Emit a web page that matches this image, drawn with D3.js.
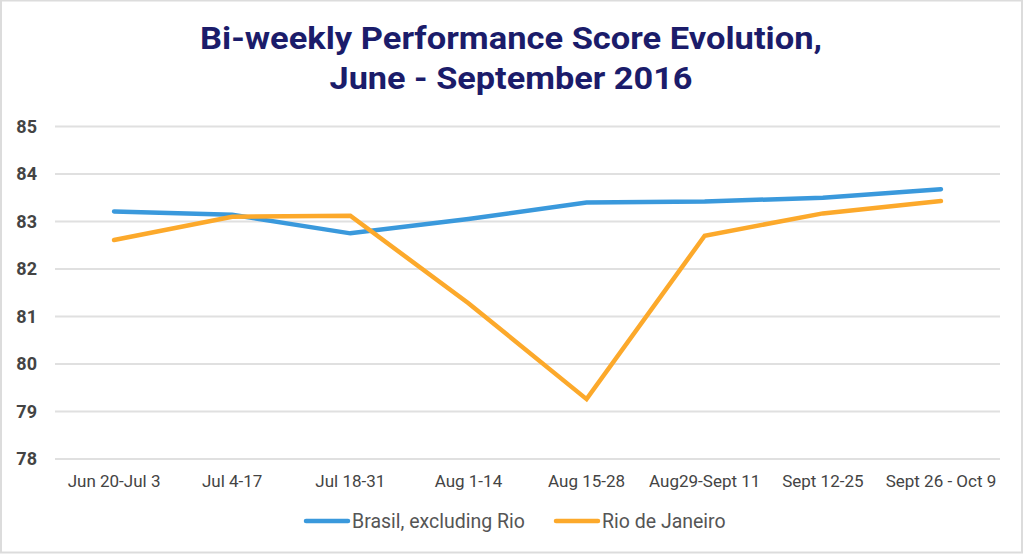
<!DOCTYPE html>
<html>
<head>
<meta charset="utf-8">
<script src="https://cdn.jsdelivr.net/npm/d3@7"></script>
<style>
  html, body { margin: 0; padding: 0; background: #fff; }
  svg { display: block; }
</style>
</head>
<body>
<svg id="chart" width="1024" height="554"></svg>
<script>
const categories = ["Jun 20-Jul 3", "Jul 4-17", "Jul 18-31", "Aug 1-14", "Aug 15-28", "Aug29-Sept 11", "Sept 12-25", "Sept 26 - Oct 9"];
const brasilValues = [83.20, 83.13, 82.74, 83.04, 83.39, 83.41, 83.49, 83.67];
const rioValues = [82.60, 83.09, 83.11, 81.27, 79.25, 82.69, 83.16, 83.42];
const seriesNames = ["Brasil, excluding Rio", "Rio de Janeiro"];
const yTicks = [78, 79, 80, 81, 82, 83, 84, 85];
const titleLines = ["Bi-weekly Performance Score Evolution,", "June - September 2016"];

const W = 1024, H = 554;
const svg = d3.select("#chart");
const colors = ["#3a99dc", "#fca92b"];

// border
svg.append("rect").attr("x", 1).attr("y", 0.5).attr("width", W - 3).attr("height", H - 2)
  .attr("fill", "#fff").attr("stroke", "#dcdcdc").attr("stroke-width", 2);

const margin = { left: 55, right: 1000, top: 126, bottom: 458.5 };

const x = d3.scaleBand().domain(categories).range([margin.left, margin.right]).padding(0);
const y = d3.scaleLinear().domain([78, 85]).range([margin.bottom, margin.top]);

// title
const titleLens = [622, 363];
titleLines.forEach((t, i) => {
  svg.append("text").attr("text-anchor", "middle")
    .attr("x", 511).attr("y", 49 + i * 40)
    .attr("font-family", "Roboto, sans-serif").attr("font-weight", "bold")
    .attr("font-size", 31).attr("fill", "#1b1c6a")
    .attr("textLength", titleLens[i]).attr("lengthAdjust", "spacingAndGlyphs")
    .text(t);
});

// gridlines
const yAxis = d3.axisLeft(y).tickValues(yTicks).tickSize(-(margin.right - margin.left)).tickFormat(d3.format("d"));
const gy = svg.append("g").attr("transform", `translate(${margin.left},0)`).call(yAxis);
gy.select(".domain").remove();
gy.selectAll(".tick line").attr("stroke", "#e0e0e0").attr("stroke-width", 2);
gy.selectAll(".tick text").attr("x", -18).attr("dy", "0.36em")
  .attr("font-family", "Roboto, sans-serif").attr("font-weight", "bold")
  .attr("font-size", 18).attr("fill", "#444");

// x axis
const xAxis = d3.axisBottom(x).tickSize(0);
const gx = svg.append("g").attr("transform", `translate(0,${margin.bottom})`).call(xAxis);
gx.select(".domain").remove();
gx.selectAll(".tick text").attr("y", 16).attr("dy", "0.71em")
  .attr("font-family", "Roboto, sans-serif").attr("font-size", 17).attr("fill", "#444");

// lines
const line = d3.line().x((d, i) => x(categories[i]) + x.bandwidth() / 2).y(d => y(d));
[brasilValues, rioValues].forEach((vals, k) => {
  svg.append("path").datum(vals).attr("d", line)
    .attr("fill", "none").attr("stroke", colors[k]).attr("stroke-width", 4.5)
    .attr("stroke-linecap", "round").attr("stroke-linejoin", "miter");
});

// legend
const legendItems = [{ x0: 306, name: seriesNames[0], c: colors[0] }, { x0: 556, name: seriesNames[1], c: colors[1] }];
legendItems.forEach(it => {
  svg.append("line").attr("x1", it.x0).attr("x2", it.x0 + 42).attr("y1", 521).attr("y2", 521)
    .attr("stroke", it.c).attr("stroke-width", 4.5).attr("stroke-linecap", "round");
  svg.append("text").attr("x", it.x0 + 46).attr("y", 521).attr("dy", "0.36em")
    .attr("font-family", "Roboto, sans-serif").attr("font-size", 19.5).attr("fill", "#555")
    .text(it.name);
});
</script>
</body>
</html>
